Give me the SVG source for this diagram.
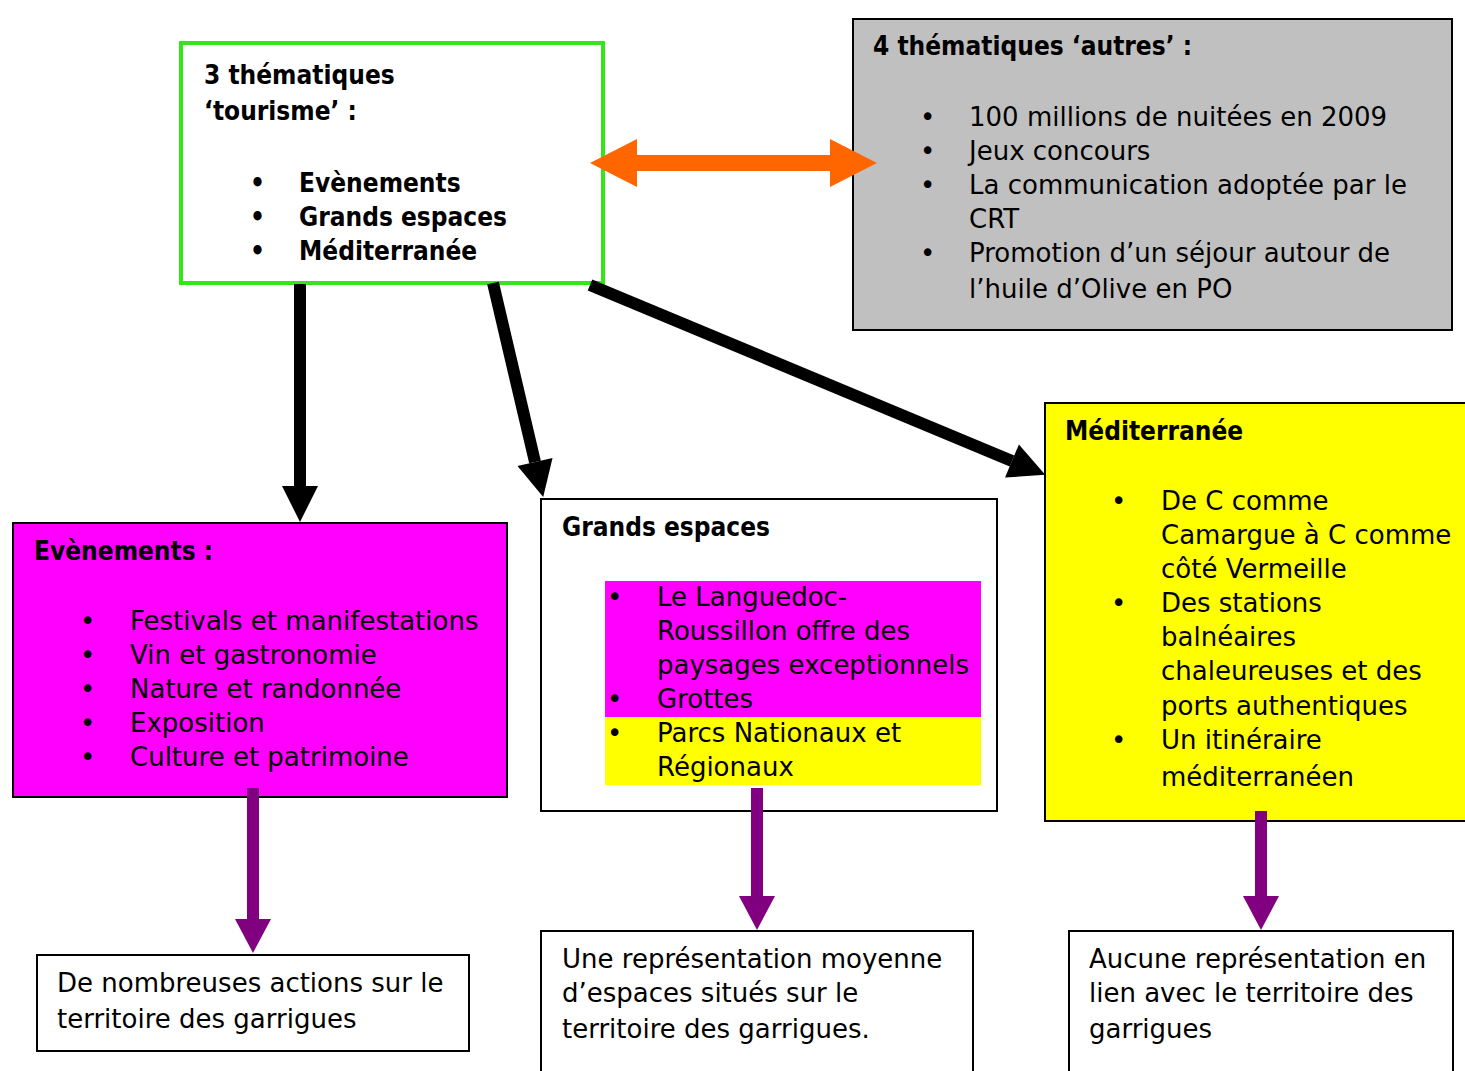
<svg xmlns="http://www.w3.org/2000/svg" width="1465" height="1071" viewBox="0 0 1465 1071">
<style>
text{font-family:"DejaVu Sans",sans-serif;font-size:26px;fill:#000}
.b{font-family:"DejaVu Sans Condensed","DejaVu Sans",sans-serif;font-weight:bold;font-stretch:condensed}
.box{stroke:#000;stroke-width:2}
.blk{stroke:#000;stroke-width:12;fill:none}
.pur{stroke:#800080;stroke-width:12;fill:none}
.org{stroke:#ff6600;stroke-width:16;fill:none}
</style>
<defs>
<marker id="hb" markerUnits="userSpaceOnUse" markerWidth="40" markerHeight="40" viewBox="0 -20 40 40" refX="0" refY="0" orient="auto" overflow="visible"><path d="M0,-18 L36,0 L0,18 z" fill="#000"/></marker>
<marker id="hp" markerUnits="userSpaceOnUse" markerWidth="40" markerHeight="40" viewBox="0 -20 40 40" refX="0" refY="0" orient="auto" overflow="visible"><path d="M0,-18 L34,0 L0,18 z" fill="#800080"/></marker>
<marker id="ho" markerUnits="userSpaceOnUse" markerWidth="50" markerHeight="50" viewBox="0 -25 50 50" refX="0" refY="0" orient="auto-start-reverse" overflow="visible"><path d="M0,-24 L47,0 L0,24 z" fill="#ff6600"/></marker>
</defs>
<rect width="1465" height="1071" fill="#fff"/>

<g id="n-tourisme">
<rect x="181" y="43" width="422" height="240" fill="#fff" stroke="#33e619" stroke-width="4"/>
<text class="b" x="204" y="84">3 thématiques</text>
<text class="b" x="204" y="120">‘tourisme’ :</text>
<text class="b" x="250" y="192">•</text><text class="b" x="299" y="192">Evènements</text>
<text class="b" x="250" y="226">•</text><text class="b" x="299" y="226">Grands espaces</text>
<text class="b" x="250" y="260">•</text><text class="b" x="299" y="260">Méditerranée</text>
</g>

<g id="n-autres">
<rect x="853" y="19" width="599" height="311" fill="#c0c0c0" class="box"/>
<text class="b" x="873" y="55">4 thématiques ‘autres’ :</text>
<text x="920" y="126">•</text><text x="969" y="126">100 millions de nuitées en 2009</text>
<text x="920" y="160">•</text><text x="969" y="160">Jeux concours</text>
<text x="920" y="194">•</text><text x="969" y="194">La communication adoptée par le</text>
<text x="969" y="228">CRT</text>
<text x="920" y="262">•</text><text x="969" y="262">Promotion d’un séjour autour de</text>
<text x="969" y="298">l’huile d’Olive en PO</text>
</g>

<g id="n-evenements">
<rect x="13" y="523" width="494" height="274" fill="#ff00ff" class="box"/>
<text class="b" x="34" y="560">Evènements :</text>
<text x="80" y="630">•</text><text x="130" y="630">Festivals et manifestations</text>
<text x="80" y="664">•</text><text x="130" y="664">Vin et gastronomie</text>
<text x="80" y="698">•</text><text x="130" y="698">Nature et randonnée</text>
<text x="80" y="732">•</text><text x="130" y="732">Exposition</text>
<text x="80" y="766">•</text><text x="130" y="766">Culture et patrimoine</text>
</g>

<g id="n-grands">
<rect x="541" y="499" width="456" height="312" fill="#fff" class="box"/>
<rect x="605" y="581" width="376" height="136" fill="#ff00ff"/>
<rect x="605" y="717" width="376" height="68" fill="#ffff00"/>
<text class="b" x="562" y="536">Grands espaces</text>
<text x="607" y="606">•</text><text x="657" y="606">Le Languedoc-</text>
<text x="657" y="640">Roussillon offre des</text>
<text x="657" y="674">paysages exceptionnels</text>
<text x="607" y="708">•</text><text x="657" y="708">Grottes</text>
<text x="607" y="742">•</text><text x="657" y="742">Parcs Nationaux et</text>
<text x="657" y="776">Régionaux</text>
</g>

<g id="n-mediterranee">
<rect x="1045" y="403" width="430" height="418" fill="#ffff00" class="box"/>
<text class="b" x="1065" y="440">Méditerranée</text>
<text x="1111" y="510">•</text><text x="1161" y="510">De C comme</text>
<text x="1161" y="544">Camargue à C comme</text>
<text x="1161" y="578">côté Vermeille</text>
<text x="1111" y="612">•</text><text x="1161" y="612">Des stations</text>
<text x="1161" y="646">balnéaires</text>
<text x="1161" y="680">chaleureuses et des</text>
<text x="1161" y="715">ports authentiques</text>
<text x="1111" y="749">•</text><text x="1161" y="749">Un itinéraire</text>
<text x="1161" y="786">méditerranéen</text>
</g>

<g id="n-res1">
<rect x="37" y="955" width="432" height="96" fill="#fff" class="box"/>
<text x="57" y="992">De nombreuses actions sur le</text>
<text x="57" y="1028">territoire des garrigues</text>
</g>
<g id="n-res2">
<rect x="541" y="931" width="432" height="160" fill="#fff" class="box"/>
<text x="562" y="968">Une représentation moyenne</text>
<text x="562" y="1002">d’espaces situés sur le</text>
<text x="562" y="1038">territoire des garrigues.</text>
</g>
<g id="n-res3">
<rect x="1069" y="931" width="384" height="160" fill="#fff" class="box"/>
<text x="1089" y="968">Aucune représentation en</text>
<text x="1089" y="1002">lien avec le territoire des</text>
<text x="1089" y="1038">garrigues</text>
</g>

<g id="connectors">
<line class="org" x1="637" y1="163" x2="830" y2="163" marker-start="url(#ho)" marker-end="url(#ho)"/>
<line class="blk" x1="300" y1="284" x2="300" y2="486" marker-end="url(#hb)"/>
<line class="blk" x1="493" y1="283" x2="535" y2="462" marker-end="url(#hb)"/>
<line class="blk" x1="590" y1="285" x2="1012" y2="461" marker-end="url(#hb)"/>
<line class="pur" x1="253" y1="788" x2="253" y2="919" marker-end="url(#hp)"/>
<line class="pur" x1="757" y1="788" x2="757" y2="896" marker-end="url(#hp)"/>
<line class="pur" x1="1261" y1="811" x2="1261" y2="896" marker-end="url(#hp)"/>
</g>
</svg>
